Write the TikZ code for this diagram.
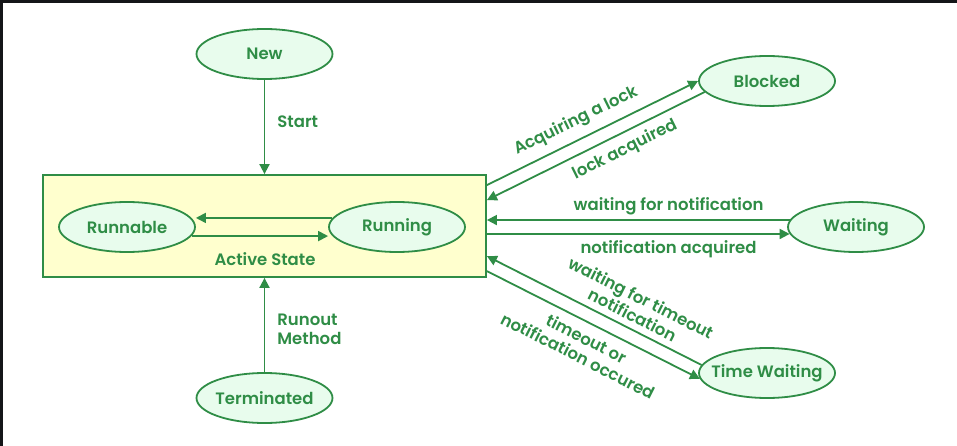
\documentclass[tikz,border=0pt]{standalone}
\usepackage{fontspec}
\setmainfont{Poppins}[UprightFont={* SemiBold}]
\usetikzlibrary{arrows.meta,shapes.geometric}
\definecolor{gfg}{RGB}{47,141,70}
\definecolor{efill}{RGB}{232,252,237}
\definecolor{bfill}{RGB}{255,255,206}
\definecolor{frame}{RGB}{20,21,24}
\newcommand{\stxt}[1]{\makebox[0pt]{#1}}
\begin{document}
\begin{tikzpicture}[x=1pt,y=-1pt,
  st/.style={ellipse,draw=gfg,line width=1.8pt,fill=efill,minimum width=136pt,minimum height=50pt,inner sep=0pt,text=gfg,font=\fontsize{16.5}{19}\selectfont},
  lab/.style={text=gfg,font=\fontsize{16.5}{19}\selectfont,inner sep=0pt},
  conn/.style={draw=gfg,line width=1.8pt},
  fwd/.style={conn,-{Triangle[length=10pt,width=10pt]}},
  bwd/.style={conn,{Triangle[length=10pt,width=10pt]}-}]
\useasboundingbox (0,0) rectangle (957,446);
\fill[white] (0,0) rectangle (957,446);
\fill[frame] (0,0) rectangle (957,3);
\fill[frame] (0,0) rectangle (3,446);

\node[draw=gfg,line width=1.8pt,fill=bfill,minimum width=443pt,minimum height=102pt,inner sep=0pt] (active) at (264.5,226) {};
\node[lab] (activelab) at (265,259) {Active State};

\node[st] (new) at (264.5,54) {\stxt{New}};
\node[st] (runnable) at (127,227) {\stxt{Runnable}};
\node[st] (running) at (397,227) {\stxt{Running}};
\node[st] (term) at (264.5,398) {\stxt{Terminated}};
\node[st] (blocked) at (767,81) {\stxt{Blocked}};
\node[st] (waiting) at (856,227) {\stxt{Waiting}};
\node[st] (tw) at (767,373) {\stxt{Time Waiting}};

\draw[fwd] (new.south) -- (new.south |- active.north)
  node[lab,midway,anchor=west,xshift=12pt,yshift=5pt] {Start};
\draw[fwd] (term.north) -- (term.north |- active.south)
  node[lab,midway,anchor=west,xshift=12pt,yshift=-4pt,align=left] {Runout\\Method};

\draw[fwd] (running.172) -- (running.172 -| runnable.east);
\draw[fwd] (runnable.352) -- (runnable.352 -| running.west);

\draw[bwd] (waiting.174 -| active.east) -- (waiting.174)
  node[lab,pos=0.6,above=4pt] {waiting for notification};
\draw[fwd] (waiting.186 -| active.east) -- (waiting.186)
  node[lab,pos=0.6,below=5.5pt] {notification acquired};

\draw[fwd] ([yshift=-11pt]active.north east) -- (blocked.west)
  node[lab,pos=0.46,sloped,above=8.5pt] {Acquiring a lock};
\draw[bwd] ([yshift=-26pt]active.north east) -- (blocked.190)
  node[lab,pos=0.6,sloped,below=7pt] {lock acquired};

\draw[bwd] ([yshift=-82pt]active.north east) -- (tw.173)
  node[lab,pos=0.65,sloped,above=6pt,align=center] {waiting for timeout\\notification};
\draw[fwd] ([yshift=-97pt]active.north east) -- (tw.185)
  node[lab,pos=0.5,sloped,below=8pt,align=center] {timeout or\\notification occured};
\end{tikzpicture}
\end{document}
